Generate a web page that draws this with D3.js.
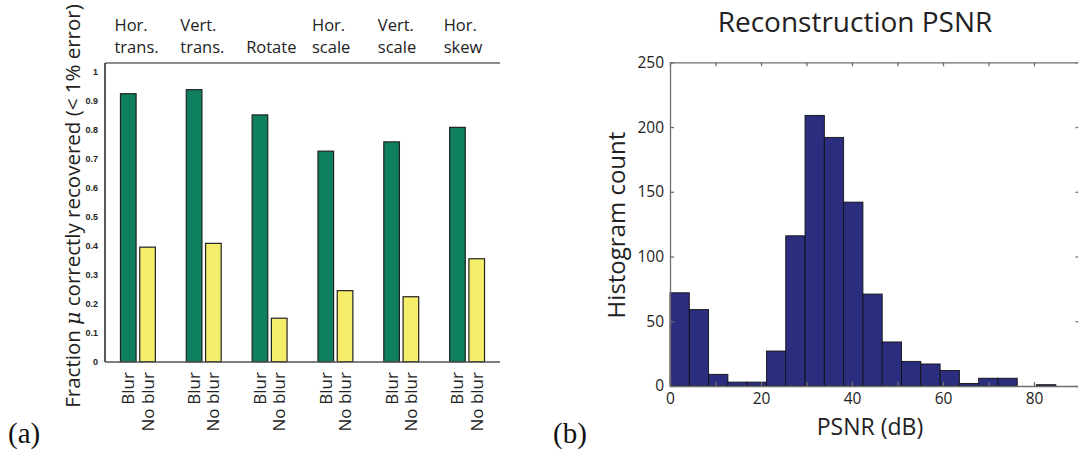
<!DOCTYPE html>
<html>
<head>
<meta charset="utf-8">
<script src="https://cdn.jsdelivr.net/npm/d3@7"></script>
<style>
  body { margin: 0; background: #fff; }
</style>
</head>
<body>
<svg id="fig" width="1078" height="454" font-family="Open Sans, Noto Sans, sans-serif"></svg>
<script>
// data
const transforms = [["Hor.", "trans."], ["Vert.", "trans."], ["", "Rotate"], ["Hor.", "scale"], ["Vert.", "scale"], ["Hor.", "skew"]];
const conditions = ["Blur", "No blur"];
const blurVals = [0.924, 0.938, 0.851, 0.726, 0.758, 0.808];
const noBlurVals = [0.395, 0.408, 0.150, 0.245, 0.224, 0.355];
const fracTicks = [0, 0.1, 0.2, 0.3, 0.4, 0.5, 0.6, 0.7, 0.8, 0.9, 1];

const binCount = 20;
const binMax = 84.8;
const histCounts = [72, 59, 9, 3, 3, 27, 116, 209, 192, 142, 71, 34, 19, 17, 12, 2, 6, 6, 0, 1];
const psnrTicks = [0, 10, 20, 30, 40, 50, 60, 70, 80, 90];
const psnrLabels = [0, 20, 40, 60, 80];
const countTicks = [0, 50, 100, 150, 200, 250];

const svg = d3.select("#fig");

// ---------- (a) grouped bars ----------
const colA = { "Blur": "#0e7f5f", "No blur": "#f5ee6b" };

const yA = d3.scaleLinear().domain([0, 1]).range([361.7, 71.7]);
const x0 = d3.scaleBand()
  .domain(d3.range(transforms.length))
  .range([105, 500])
  .paddingInner(0.47)
  .paddingOuter(0.235);
const x1 = d3.scaleBand()
  .domain(conditions)
  .range([0, x0.bandwidth()])
  .paddingInner(0.19);

const rowsA = transforms.map((t, i) => [
  { g: i, c: "Blur", v: blurVals[i] },
  { g: i, c: "No blur", v: noBlurVals[i] }
]);

const a = svg.append("g");

// top box line
a.append("line").attr("x1", 105).attr("x2", 500).attr("y1", 63).attr("y2", 63)
  .attr("stroke", "#666").attr("stroke-width", 1.5);

const groups = a.selectAll(".grp")
  .data(rowsA)
  .join("g")
    .attr("class", "grp")
    .attr("transform", (d, i) => `translate(${x0(i)},0)`);

groups.selectAll("rect")
  .data(d => d)
  .join("rect")
    .attr("x", d => x1(d.c))
    .attr("y", d => yA(d.v))
    .attr("width", x1.bandwidth())
    .attr("height", d => yA(0) - yA(d.v))
    .attr("fill", d => colA[d.c])
    .attr("stroke", "#222")
    .attr("stroke-width", 1.2);

// rotated condition labels
groups.selectAll("text.cond")
  .data(d => d)
  .join("text")
    .attr("class", "cond")
    .attr("transform", d => `translate(${x1(d.c) + x1.bandwidth() / 2 + 6},372) rotate(-90)`)
    .attr("text-anchor", "end")
    .attr("font-size", 17)
    .attr("fill", "#222")
    .text(d => d.c);

// transform names above
const heads = a.selectAll(".head")
  .data(transforms)
  .join("text")
    .attr("class", "head")
    .attr("font-size", 16.5)
    .attr("fill", "#222");
heads.append("tspan").attr("x", (d, i) => x0(i) - 6).attr("y", 31).text(d => d[0]);
heads.append("tspan").attr("x", (d, i) => x0(i) - 6).attr("y", 53).text(d => d[1]);

// y axis
const axA = a.append("g")
  .attr("transform", "translate(105,0)")
  .call(d3.axisLeft(yA).tickValues(fracTicks).tickSize(0).tickPadding(7).tickFormat(d => d3.format("~g")(d)));
axA.select(".domain").attr("d", "M0,63V362").attr("stroke", "#222").attr("stroke-width", 1.5);
axA.selectAll("text").attr("font-family", "Liberation Sans, Arial, sans-serif").attr("font-size", 9).attr("font-weight", "bold").attr("fill", "#222");

// bottom line
a.append("line").attr("x1", 105).attr("x2", 500).attr("y1", 362).attr("y2", 362)
  .attr("stroke", "#555").attr("stroke-width", 1.5);

// y title
const tA = a.append("text")
  .attr("transform", "translate(80,206) rotate(-90)")
  .attr("text-anchor", "middle")
  .attr("font-size", 20.5)
  .attr("fill", "#222");
tA.append("tspan").text("Fraction ");
tA.append("tspan").attr("font-style", "italic").attr("font-family", "DejaVu Serif, serif").text("μ");
tA.append("tspan").text(" correctly recovered (< 1% error)");

svg.append("text").attr("x", 8).attr("y", 443)
  .attr("font-family", "Liberation Serif, Times New Roman, serif")
  .attr("font-size", 29).attr("fill", "#111").text("(a)");

// ---------- (b) histogram ----------
const b = svg.append("g");
const xB = d3.scaleLinear().domain([0, 90]).range([670, 1079.5]);
const yB = d3.scaleLinear().domain([0, 250]).range([386, 62.3]);
const binW = binMax / binCount;

b.selectAll("rect")
  .data(histCounts)
  .join("rect")
    .attr("x", (d, i) => xB(i * binW))
    .attr("y", d => yB(d))
    .attr("width", xB(binW) - xB(0))
    .attr("height", d => yB(0) - yB(d))
    .attr("fill", "#2b2d7e")
    .attr("stroke", "#111")
    .attr("stroke-width", 0.9);

const gray = "#6e6e6e";

const bx = b.append("g").attr("transform", `translate(0,${yB(0)})`)
  .call(d3.axisBottom(xB).tickValues(psnrTicks).tickSizeInner(-4).tickSizeOuter(0).tickPadding(7)
    .tickFormat(d => psnrLabels.includes(d) ? d : ""));
const tx = b.append("g").attr("transform", `translate(0,${yB(250)})`)
  .call(d3.axisTop(xB).tickValues(psnrTicks).tickSizeInner(-4).tickSizeOuter(0).tickFormat(""));
const ly = b.append("g").attr("transform", `translate(${xB(0)},0)`)
  .call(d3.axisLeft(yB).tickValues(countTicks).tickSizeInner(-4).tickSizeOuter(0).tickPadding(6));
const ry = b.append("g").attr("transform", `translate(${xB(90)},0)`)
  .call(d3.axisRight(yB).tickValues(countTicks).tickSizeInner(-4).tickSizeOuter(0).tickFormat(""));

[bx, tx, ly, ry].forEach(g => {
  g.selectAll(".domain,line").attr("stroke", gray).attr("stroke-width", 1.3);
  g.selectAll("text").attr("font-size", 15.5).attr("fill", "#222").attr("font-family", "Open Sans, sans-serif");
});

b.append("text").attr("x", 855).attr("y", 32).attr("text-anchor", "middle")
  .attr("font-size", 28).attr("fill", "#222").text("Reconstruction PSNR");
b.append("text").attr("x", 870).attr("y", 435).attr("text-anchor", "middle")
  .attr("font-size", 23).attr("fill", "#222").text("PSNR (dB)");
b.append("text").attr("transform", "translate(625,225) rotate(-90)").attr("text-anchor", "middle")
  .attr("font-size", 24).attr("fill", "#222").text("Histogram count");

svg.append("text").attr("x", 553).attr("y", 443)
  .attr("font-family", "Liberation Serif, Times New Roman, serif")
  .attr("font-size", 29).attr("fill", "#111").text("(b)");
</script>
</body>
</html>
